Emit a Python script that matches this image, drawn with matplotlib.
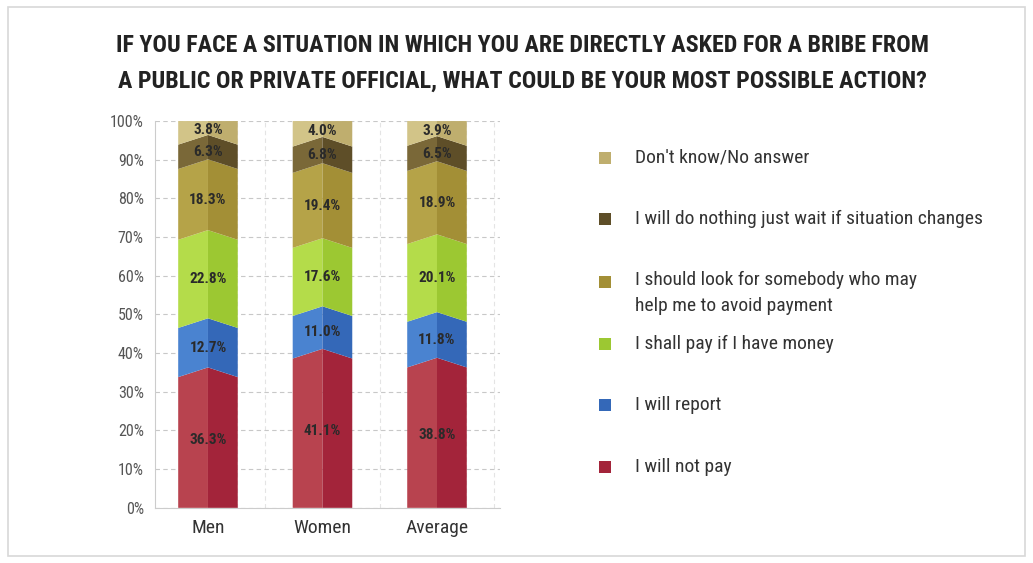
import matplotlib
matplotlib.use("Agg")
import numpy as np
import matplotlib.pyplot as plt
from matplotlib.patches import Rectangle

groups = ["Men", "Women", "Average"]
answers = [
    "I will not pay",
    "I will report",
    "I shall pay if I have money",
    "I should look for somebody who may\nhelp me to avoid payment",
    "I will do nothing just wait if situation changes",
    "Don't know/No answer",
]
not_pay = [36.3, 41.1, 38.8]
report = [12.7, 11.0, 11.8]
pay_if_money = [22.8, 17.6, 20.1]
look_for_help = [18.3, 19.4, 18.9]
do_nothing = [6.3, 6.8, 6.5]
dont_know = [3.8, 4.0, 3.9]
yticks = [0, 10, 20, 30, 40, 50, 60, 70, 80, 90, 100]

# (left half, right half) shades per answer, bottom to top
shades = [
    ("#b8434f", "#a3243a"),
    ("#4a83d0", "#3468b8"),
    ("#b4dc4a", "#9cc832"),
    ("#b5a348", "#a38f36"),
    ("#7a6838", "#5e4e28"),
    ("#d2c488", "#bfae6e"),
]

plt.rcParams["font.family"] = ["Roboto Condensed", "DejaVu Sans"]

fig = plt.figure(figsize=(10.33, 5.63), dpi=100)
fig.patch.set_facecolor("white")
fig.patches.append(Rectangle((0.008, 0.012), 0.984, 0.975, transform=fig.transFigure,
                             fill=False, edgecolor="#d8d8d8", lw=1.2))

ax = fig.add_axes([0.150, 0.098, 0.334, 0.687])
series = [not_pay, report, pay_if_money, look_for_help, do_nothing, dont_know]
x = np.arange(len(groups))
width = 0.52
peak = 2.5


def edge(level, k, last):
    # boundary drops at the bar edges, peak in the middle sits on the cumulative value
    if k < 0 or k == last:
        return 0.0 if k < 0 else 100.0, 0.0
    return level - peak, peak


bottom = np.zeros(len(groups))
last = len(series) - 1
for k, vals in enumerate(series):
    vals = np.array(vals)
    top = bottom + vals
    for i in range(len(groups)):
        x0, xc, x1 = x[i] - width / 2, x[i], x[i] + width / 2
        be, bp = edge(bottom[i], k - 1, last)
        te, tp = edge(top[i], k, last)
        # chevron shaped segment, split into a lighter and a darker half
        ax.fill([x0, xc, xc, x0], [be, be + bp, te + tp, te],
                color=shades[k][0], lw=0, zorder=3 + k * 0.01)
        ax.fill([xc, x1, x1, xc], [be + bp, be, te, te + tp],
                color=shades[k][1], lw=0, zorder=3 + k * 0.01)
        ax.text(xc, (be + te) / 2 + (bp + tp) / 4, f"{vals[i]:.1f}%",
                ha="center", va="center", fontsize=11, fontweight="bold",
                color="#2a2a2a", zorder=5)
    bottom = top

ax.set_xlim(-0.463, 2.55)
ax.set_ylim(0, 100)
ax.set_yticks(yticks)
ax.set_yticklabels([f"{v}%" for v in yticks], fontsize=11.5, color="#555555")
ax.set_xticks(x)
ax.set_xticklabels(groups, fontsize=14, color="#333333")
ax.tick_params(length=0, pad=8)
ax.set_xticks(np.arange(-0.25, 2.55, 0.25), minor=True)
ax.tick_params(which="minor", length=0)
ax.grid(axis="y", color="#c8c8c8", ls=(0, (4, 3)), lw=0.8, zorder=0)
ax.grid(axis="x", which="minor", color="#e4e4e4", ls=(0, (4, 3)), lw=0.8, zorder=0)
for s in ["top", "right"]:
    ax.spines[s].set_visible(False)
for s in ["left", "bottom"]:
    ax.spines[s].set_color("#cccccc")

fig.text(0.506, 0.919, "IF YOU FACE A SITUATION IN WHICH YOU ARE DIRECTLY ASKED FOR A BRIBE FROM",
         ha="center", va="center", fontsize=17.3, fontweight="bold", color="#222222")
fig.text(0.506, 0.856, "A PUBLIC OR PRIVATE OFFICIAL, WHAT COULD BE YOUR MOST POSSIBLE ACTION?",
         ha="center", va="center", fontsize=17.3, fontweight="bold", color="#222222")

# legend, top entry first
legend_y = [158, 219, 282, 344, 405, 467]
for k, yy in zip(range(len(answers) - 1, -1, -1), legend_y):
    yf = 1 - yy / 563
    fig.patches.append(Rectangle((599 / 1033, yf - 6 / 563), 12 / 1033, 12 / 563,
                                 transform=fig.transFigure, color=shades[k][1], lw=0))
    if "\n" in answers[k]:
        fig.text(635 / 1033, yf + 11 / 563, answers[k], ha="left", va="top",
                 fontsize=14, color="#333333", linespacing=1.55)
    else:
        fig.text(635 / 1033, yf, answers[k], ha="left", va="center",
                 fontsize=14, color="#333333")

fig.savefig("out.png", dpi=100)
